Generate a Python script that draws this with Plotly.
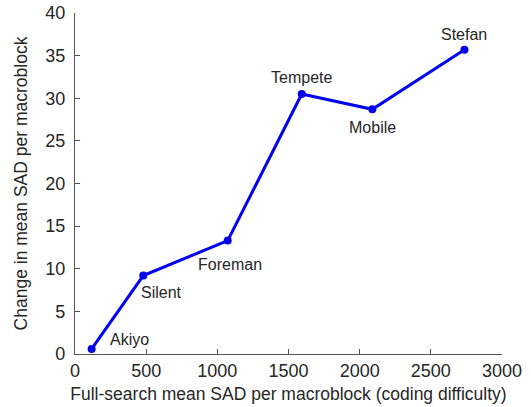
import plotly.graph_objects as go

sequences = ["Akiyo", "Silent", "Foreman", "Tempete", "Mobile", "Stefan"]
full_search_sad = [117, 480, 1073, 1593, 2089, 2736]
sad_change = [0.6, 9.2, 13.3, 30.5, 28.7, 35.7]

# label offsets in pixels (dx, dy) relative to each point
label_dx = [38, 18, 2, 0, 0, 0]
label_dy = [9, -17, -24, 16, -18, 15]

font_family = "Liberation Sans, Arial, sans-serif"
text_color = "#262626"

fig = go.Figure()
fig.add_trace(go.Scatter(
    x=full_search_sad, y=sad_change, mode="lines+markers",
    line=dict(color="#0000ee", width=3),
    marker=dict(color="#0000ee", size=8),
    showlegend=False, cliponaxis=False,
))

for name, x, y, dx, dy in zip(sequences, full_search_sad, sad_change, label_dx, label_dy):
    fig.add_annotation(x=x, y=y, text=name, showarrow=False,
                       xshift=dx, yshift=dy,
                       font=dict(family=font_family, size=16, color=text_color))

axis_common = dict(
    showgrid=False, zeroline=False, showline=True, linecolor="#555555", linewidth=1.2,
    ticks="inside", ticklen=5, tickcolor="#555555", tickwidth=1.2,
    tickfont=dict(family=font_family, size=18, color=text_color),
    mirror=False, automargin=False,
)

fig.update_layout(
    width=531, height=407,
    margin=dict(l=75, r=29, t=13, b=53),
    paper_bgcolor="white", plot_bgcolor="white",
    xaxis=dict(range=[0, 3000], tickvals=[0, 500, 1000, 1500, 2000, 2500, 3000],
               title=dict(text="Full-search mean SAD per macroblock (coding difficulty)",
                          font=dict(family=font_family, size=17.5, color=text_color), standoff=8),
               ticklabelstandoff=0,
               **axis_common),
    yaxis=dict(range=[0, 40], tickvals=[0, 5, 10, 15, 20, 25, 30, 35, 40],
               title=dict(text="Change in mean SAD per macroblock",
                          font=dict(family=font_family, size=17.5, color=text_color), standoff=13),
               ticklabelstandoff=5,
               **axis_common),
)

fig.write_html("out.html")
